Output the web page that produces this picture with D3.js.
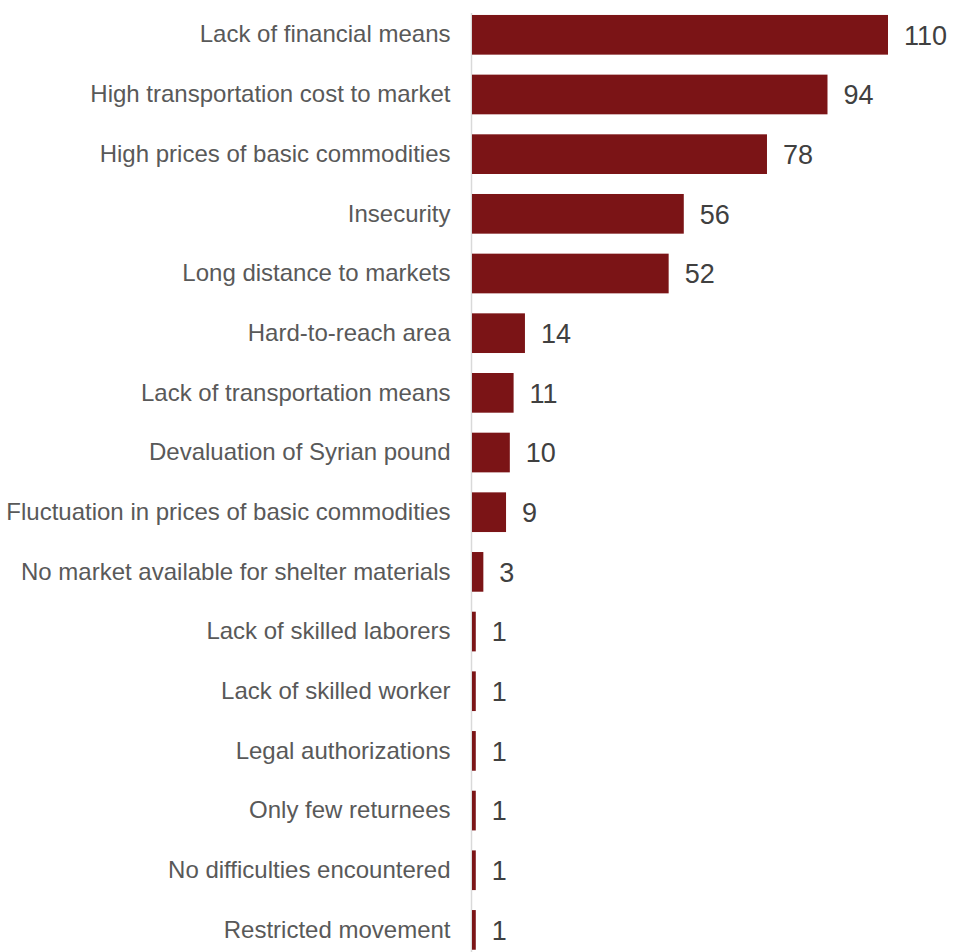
<!DOCTYPE html>
<html>
<head>
<meta charset="utf-8">
<script src="https://cdn.jsdelivr.net/npm/d3@7"></script>
<style>
  html, body { margin: 0; padding: 0; background: #ffffff; }
  svg { display: block; }
</style>
</head>
<body>
<div id="chart"></div>
<script>
// Reported market difficulties (number of responses)
const categories = [
  "Lack of financial means",
  "High transportation cost to market",
  "High prices of basic commodities",
  "Insecurity",
  "Long distance to markets",
  "Hard-to-reach area",
  "Lack of transportation means",
  "Devaluation of Syrian pound",
  "Fluctuation in prices of basic commodities",
  "No market available for shelter materials",
  "Lack of skilled laborers",
  "Lack of skilled worker",
  "Legal authorizations",
  "Only few returnees",
  "No difficulties encountered",
  "Restricted movement"
];
const counts = [110, 94, 78, 56, 52, 14, 11, 10, 9, 3, 1, 1, 1, 1, 1, 1];

const width = 955, height = 952;
const margin = { top: 5, right: 65, bottom: 0, left: 472 };

const svg = d3.select("#chart").append("svg")
  .attr("width", width)
  .attr("height", height);

const x = d3.scaleLinear()
  .domain([0, 110])
  .range([margin.left, 888]);

const y = d3.scaleBand()
  .domain(categories)
  .range([margin.top, margin.top + 59.67 * categories.length])
  .paddingInner(0.335)
  .paddingOuter(0.167);

// Category axis along the bar baseline
const yAxis = d3.axisLeft(y).tickSize(0).tickPadding(21);
const gy = svg.append("g")
  .attr("transform", `translate(${margin.left - 0.5},0)`)
  .call(yAxis);
gy.select(".domain").remove();
gy.selectAll("text")
  .attr("font-family", "Liberation Sans, Arial, sans-serif")
  .attr("font-size", 24)
  .attr("fill", "#595959");

svg.append("line")
  .attr("x1", margin.left - 0.5).attr("x2", margin.left - 0.5)
  .attr("y1", 13).attr("y2", height)
  .attr("stroke", "#d9d9d9")
  .attr("stroke-width", 1.5);

svg.append("g").selectAll("rect")
  .data(categories)
  .join("rect")
  .attr("x", x(0))
  .attr("y", d => y(d))
  .attr("width", (d, i) => x(counts[i]) - x(0))
  .attr("height", y.bandwidth())
  .attr("fill", "#7b1416");

svg.append("g").selectAll("text")
  .data(categories)
  .join("text")
  .attr("x", (d, i) => x(counts[i]) + 16)
  .attr("y", d => y(d) + y.bandwidth() / 2)
  .attr("dy", "0.36em")
  .attr("font-family", "Liberation Sans, Arial, sans-serif")
  .attr("font-size", 27)
  .attr("fill", "#404040")
  .text((d, i) => counts[i]);
</script>
</body>
</html>
